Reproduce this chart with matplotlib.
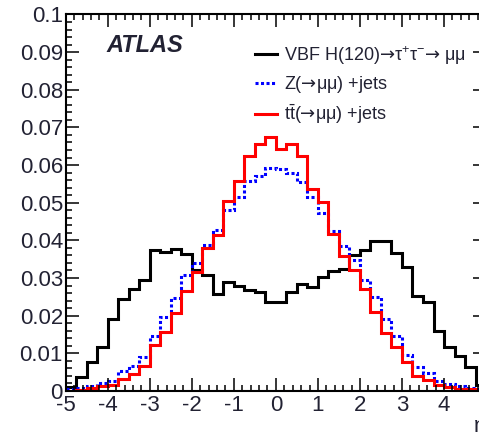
import numpy as np
import matplotlib.pyplot as plt
from matplotlib.lines import Line2D
from matplotlib.ticker import MultipleLocator, FuncFormatter

plt.rcParams['font.family'] = ['Liberation Sans', 'DejaVu Sans']
plt.rcParams['mathtext.fontset'] = 'custom'
plt.rcParams['mathtext.rm'] = 'Liberation Sans'
plt.rcParams['mathtext.it'] = 'Liberation Sans:italic'
plt.rcParams['mathtext.sf'] = 'DejaVu Sans'
plt.rcParams['axes.unicode_minus'] = False

# 40 bins of width 0.25 between -5 and 5
bin_edges = np.linspace(-5, 5, 41)

vbf_higgs = [0.0010, 0.0037, 0.0078, 0.0116, 0.0190, 0.0243, 0.0270, 0.0295,
             0.0374, 0.0370, 0.0377, 0.0364, 0.0320, 0.0309, 0.0258, 0.0290,
             0.0278, 0.0268, 0.0262, 0.0237, 0.0237, 0.0262, 0.0285, 0.0275,
             0.0304, 0.0318, 0.0325, 0.0360, 0.0375, 0.0398, 0.0398, 0.0366,
             0.0328, 0.0252, 0.0236, 0.0160, 0.0118, 0.0094, 0.0063, 0.0015]

z_jets = [0.0006, 0.0007, 0.0012, 0.0020, 0.0026, 0.0052, 0.0066, 0.0091,
          0.0145, 0.0196, 0.0248, 0.0308, 0.0340, 0.0388, 0.0428, 0.0481,
          0.0516, 0.0557, 0.0572, 0.0592, 0.0589, 0.0580, 0.0554, 0.0516,
          0.0474, 0.0424, 0.0386, 0.0347, 0.0295, 0.0249, 0.0191, 0.0147,
          0.0095, 0.0063, 0.0049, 0.0026, 0.0018, 0.0013, 0.0008, 0.0005]

ttbar_jets = [0.0001, 0.0003, 0.0008, 0.0013, 0.0017, 0.0032, 0.0046, 0.0066,
              0.0121, 0.0157, 0.0206, 0.0266, 0.0315, 0.0381, 0.0414, 0.0505,
              0.0558, 0.0623, 0.0656, 0.0675, 0.0642, 0.0656, 0.0625, 0.0536,
              0.0503, 0.0417, 0.0358, 0.0322, 0.0271, 0.0211, 0.0153, 0.0117,
              0.0076, 0.0041, 0.0030, 0.0016, 0.0010, 0.0006, 0.0004, 0.0001]

arrow = u"$\\mathsf{\u2192}$"
labels = [u"VBF H(120)" + arrow + u"\u03c4$^{+}$\u03c4$^{-}$" + arrow + u" \u03bc\u03bc",
          u"Z(" + arrow + u"\u03bc\u03bc) +jets",
          r"$\mathrm{t\bar{t}}$(" + arrow + u"\u03bc\u03bc) +jets"]

text_color = '#222233'
blue_dots = (0, (1, 0.8))

fig = plt.figure(figsize=(4.79, 4.36), dpi=100)
ax = fig.add_axes([0.1372, 0.1033, 0.8775, 0.8635])

ax.stairs(vbf_higgs, bin_edges, color='black', lw=2.2, baseline=None)
ax.stairs(z_jets, bin_edges, color='#0000ff', lw=2.2, ls=blue_dots, baseline=None)
ax.stairs(ttbar_jets, bin_edges, color='#ff0000', lw=2.2, baseline=None)

ax.set_xlim(-5, 5)
ax.set_ylim(0, 0.1)
ax.xaxis.set_major_locator(MultipleLocator(1))
ax.xaxis.set_minor_locator(MultipleLocator(0.2))
ax.yaxis.set_major_locator(MultipleLocator(0.01))
ax.yaxis.set_minor_locator(MultipleLocator(0.002))
ax.yaxis.set_major_formatter(FuncFormatter(lambda v, p: '%g' % round(v, 3)))

ax.tick_params(which='both', direction='in', top=True, right=True,
               width=1.1, colors='black', labelcolor=text_color, labelsize=16)
ax.tick_params(which='major', length=9.5)
ax.tick_params(which='minor', length=4.5)
ax.tick_params(axis='y', pad=2)
ax.tick_params(axis='x', pad=3)
for s in ax.spines.values():
    s.set_linewidth(1.5)

ax.set_xlabel(u"\u03b7", loc='right', fontsize=16, color=text_color, labelpad=0)

ax.text(0.098, 0.918, "ATLAS", transform=ax.transAxes, fontsize=17,
        fontweight='bold', fontstyle='italic', va='center', ha='left',
        color=text_color)

handles = [Line2D([], [], color='black', lw=2.2),
           Line2D([], [], color='#0000ff', lw=2.2, ls=blue_dots),
           Line2D([], [], color='#ff0000', lw=2.2)]
ax.legend(handles, labels, loc='upper left', bbox_to_anchor=(0.45, 0.922),
          frameon=False, fontsize=13, labelcolor=text_color,
          handlelength=1.2, handletextpad=0.4, labelspacing=0.42,
          borderpad=0, borderaxespad=0)

fig.savefig('out.png', dpi=100)
